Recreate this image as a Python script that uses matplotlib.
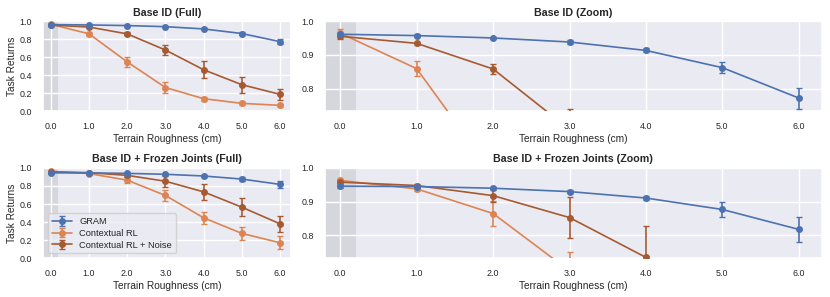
import matplotlib
matplotlib.use("Agg")
import matplotlib.pyplot as plt
import seaborn as sns
import numpy as np

sns.set_theme(style="darkgrid")
plt.rcParams["font.family"] = ["Liberation Sans", "DejaVu Sans"]

roughness = [0.0, 1.0, 2.0, 3.0, 4.0, 5.0, 6.0]

# Base ID
base_gram = [0.961, 0.957, 0.950, 0.938, 0.913, 0.862, 0.772]
base_gram_err = [0.005, 0.004, 0.004, 0.005, 0.006, 0.017, 0.031]
base_crl = [0.964, 0.859, 0.547, 0.263, 0.139, 0.087, 0.065]
base_crl_err = [0.013, 0.023, 0.060, 0.062, 0.022, 0.015, 0.015]
base_noise = [0.955, 0.934, 0.858, 0.679, 0.460, 0.294, 0.187]
base_noise_err = [0.008, 0.005, 0.016, 0.060, 0.092, 0.090, 0.064]

# Base ID + frozen joints
frozen_gram = [0.946, 0.945, 0.940, 0.930, 0.911, 0.877, 0.818]
frozen_gram_err = [0.004, 0.004, 0.004, 0.004, 0.007, 0.021, 0.038]
frozen_crl = [0.963, 0.938, 0.865, 0.695, 0.447, 0.274, 0.170]
frozen_crl_err = [0.005, 0.006, 0.037, 0.057, 0.068, 0.068, 0.072]
frozen_noise = [0.958, 0.948, 0.918, 0.853, 0.735, 0.565, 0.380]
frozen_noise_err = [0.005, 0.004, 0.020, 0.061, 0.092, 0.100, 0.085]

labels = ["GRAM", "Contextual RL", "Contextual RL + Noise"]
colors = ["#4C72B0", "#DD8452", "#A65A32"]

panels = [
    ("Base ID (Full)", (base_gram, base_crl, base_noise),
     (base_gram_err, base_crl_err, base_noise_err), (0.0, 1.0)),
    ("Base ID (Zoom)", (base_gram, base_crl, base_noise),
     (base_gram_err, base_crl_err, base_noise_err), (0.733, 1.0)),
    ("Base ID + Frozen Joints (Full)", (frozen_gram, frozen_crl, frozen_noise),
     (frozen_gram_err, frozen_crl_err, frozen_noise_err), (0.0, 1.0)),
    ("Base ID + Frozen Joints (Zoom)", (frozen_gram, frozen_crl, frozen_noise),
     (frozen_gram_err, frozen_crl_err, frozen_noise_err), (0.733, 1.0)),
]

fig, axes = plt.subplots(2, 2, figsize=(8.3, 2.97), dpi=100,
                         gridspec_kw={"width_ratios": [1, 2]})
plt.subplots_adjust(left=0.052, right=0.99, top=0.929, bottom=0.131,
                    hspace=0.63, wspace=0.09)

for ax, (title, series, errs, ylim) in zip(axes.flat, panels):
    ax.axvspan(-0.2, 0.2, color="gray", alpha=0.18, lw=0, zorder=0)
    for i in [1, 2, 0]:
        ax.errorbar(roughness, series[i], yerr=errs[i], color=colors[i],
                    marker="o", markersize=4, lw=1.2, capsize=2,
                    elinewidth=1.2, capthick=1.0, label=labels[i],
                    zorder=3 + (i == 0))
    ax.set_xlim(-0.2, 6.3)
    ax.set_ylim(*ylim)
    ax.set_xticks(roughness)
    ax.set_xticklabels([f"{r:.1f}" for r in roughness])
    ax.set_title(title, fontsize=7.7, fontweight="bold", pad=4)
    ax.set_xlabel("Terrain Roughness (cm)", fontsize=7.3, labelpad=2)
    ax.tick_params(labelsize=6.4, pad=2)

for ax in axes[:, 1]:
    ax.set_yticks([0.8, 0.9, 1.0])
for ax in axes[:, 0]:
    ax.set_yticks([0.0, 0.2, 0.4, 0.6, 0.8, 1.0])
    ax.set_ylabel("Task Returns", fontsize=7.3, labelpad=2)

h, l = axes[1, 0].get_legend_handles_labels()
order = [l.index(x) for x in labels]
axes[1, 0].legend([h[k] for k in order], [l[k] for k in order],
                  loc="lower left", fontsize=6.7, handlelength=2.2,
                  borderpad=0.4, labelspacing=0.3)

fig.savefig("out.png", dpi=100)
